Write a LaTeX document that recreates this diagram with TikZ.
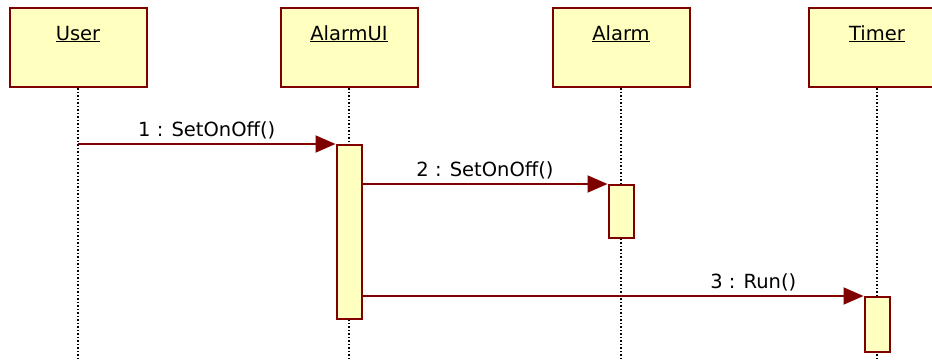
\documentclass[tikz,border=0pt]{standalone}
\usepackage{fontspec}
\setmainfont{DejaVu Sans}
\usetikzlibrary{arrows.meta}
\definecolor{umlred}{RGB}{128,0,0}
\definecolor{umlfill}{RGB}{255,255,192}

\begin{document}
\begin{tikzpicture}[x=1pt,y=-1pt]
\tikzset{obj style/.style={shape=rectangle,draw=umlred,fill=umlfill,line width=2pt,minimum width=137pt,minimum height=79pt,inner sep=0pt,},
         act style/.style={shape=rectangle,draw=umlred,fill=umlfill,line width=2pt,minimum width=25pt,inner sep=0pt,},
         name style/.style={font=\fontsize{19.5}{22}\selectfont,anchor=base,inner sep=0pt},
         life style/.style={dotted,line width=1.5pt},
         msg style/.style={draw=umlred,line width=2pt,-{Triangle[length=20pt,width=17pt]}},
         label style/.style={font=\fontsize{19.5}{22}\selectfont,above=4pt,inner sep=0pt}}

\useasboundingbox (0,0) rectangle (932,360);
\clip (0,0) rectangle (932,360);

\node[obj style] at (78, 47.5)    (user)    {};
\node[obj style] at (349, 47.5)   (alarmui) {};
\node[obj style] at (621, 47.5)   (alarm)   {};
\node[obj style] at (877, 47.5)   (timer)   {};

\node[name style] at (78, 40)    (user name)    {\underline{User}};
\node[name style] at (349, 40)   (alarmui name) {\underline{AlarmUI}};
\node[name style] at (621, 40)   (alarm name)   {\underline{Alarm}};
\node[name style] at (877, 40)   (timer name)   {\underline{Timer}};

\coordinate (user end)    at (78, 362);
\coordinate (alarmui end) at (349, 362);
\coordinate (alarm end)   at (621, 362);
\coordinate (timer end)   at (877, 362);

\draw[life style]
            (user)    -- (user end)
            (alarmui) -- (alarmui end)
            (alarm)   -- (alarm end)
            (timer)   -- (timer end)
;

\node[act style, minimum height=174pt] at (349, 232)    (alarmui act) {};
\node[act style, minimum height=53pt]  at (621, 211.5)  (alarm act)   {};
\node[act style, minimum height=55pt]  at (877, 324.5)  (timer act)   {};

\draw[msg style] (user |- alarmui act.north west) -- node[label style] {1 : SetOnOff()} (alarmui act.north west);
\draw[msg style] (alarmui act.east |- alarm act.north west) -- node[label style] {2 : SetOnOff()} (alarm act.north west);
\draw[msg style] (alarmui act.east |- timer act.north west) -- node[label style, pos=0.78] {3 : Run()} (timer act.north west);
\end{tikzpicture}
\end{document}
